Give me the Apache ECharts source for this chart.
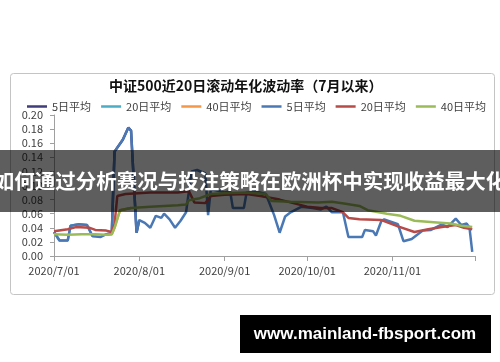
<!DOCTYPE html>
<html>
<head>
<meta charset="utf-8">
<script src="https://cdn.jsdelivr.net/npm/echarts@6/dist/echarts.min.js"></script>
<style>html,body{margin:0;padding:0;background:#fff}#c{width:500px;height:362px}</style>
</head>
<body>
<div id="c"></div>
<script>
// ---- data ----
const titleText = '中证500近20日滚动年化波动率（7月以来）';
const legendLabels = ['5日平均', '20日平均', '40日平均', '5日平均', '20日平均', '40日平均'];
const xTickDates = ['7/1', '8/1', '9/1', '10/1', '11/1', '12/1'];
const xTickLabels = ['2020/7/01', '2020/8/01', '2020/9/01', '2020/10/01', '2020/11/01', ''];
const yTickLabels = ['0.00','0.02','0.04','0.06','0.08','0.10','0.12','0.14','0.16','0.18','0.20'];

// first group
const datesA5 = ['7/20','7/22','7/23','7/26','7/28','7/29','7/31','8/1'];
const valsA5  = [0.031, 0.032, 0.148, 0.165, 0.182, 0.178, 0.033, 0.051];
const datesA20 = ['7/1','7/3','7/6','7/7','7/10','7/13','7/15'];
const valsA20  = [0.034, 0.022, 0.022, 0.043, 0.045, 0.044, 0.028];
const datesA40 = ['7/20','7/22','7/23','7/25','7/29'];
const valsA40  = [0.030, 0.031, 0.040, 0.065, 0.068];

// second group
const datesB5 = ['7/1','7/3','7/6','7/7','7/10','7/13','7/15','7/18','7/20','7/22','7/23','7/26','7/28','7/29','7/31',
  '8/1','8/3','8/5','8/7','8/9','8/10','8/12','8/14','8/16','8/18','8/20','8/22','8/25','8/26','8/27','8/30',
  '9/1','9/3','9/4','9/8','9/9','9/12','9/16','9/19','9/21','9/23','9/25','9/29',
  '10/3','10/6','10/8','10/10','10/14','10/16','10/21','10/22','10/25','10/26','10/28','10/29',
  '11/3','11/5','11/8','11/10','11/12','11/15','11/19','11/21','11/24','11/26','11/28','11/29','11/30'];
const valsB5 = [0.034,0.022,0.022,0.043,0.045,0.044,0.028,0.027,0.031,0.032,0.148,0.165,0.182,0.178,0.033,
  0.051,0.047,0.040,0.057,0.054,0.060,0.052,0.040,0.050,0.062,0.120,0.122,0.117,0.058,0.095,0.092,
  0.090,0.092,0.068,0.068,0.090,0.092,0.088,0.058,0.033,0.056,0.062,0.070,
  0.068,0.066,0.070,0.062,0.062,0.027,0.027,0.037,0.035,0.029,0.050,0.052,
  0.045,0.021,0.024,0.030,0.036,0.037,0.045,0.041,0.053,0.044,0.046,0.040,0.006];
const datesB20 = ['7/1','7/6','7/9','7/14','7/16','7/20','7/22','7/23','7/24','7/27','8/5','8/15','8/19','8/21','8/25','8/27',
  '9/1','9/9','9/14','9/21','9/26','10/1','10/6','10/10','10/14','10/16','10/20','10/28',
  '11/3','11/9','11/14','11/19','11/24','11/27','11/30'];
const valsB20 = [0.035,0.038,0.041,0.040,0.037,0.036,0.034,0.045,0.085,0.088,0.090,0.090,0.092,0.076,0.075,0.085,
  0.087,0.088,0.085,0.080,0.075,0.070,0.068,0.068,0.062,0.054,0.052,0.051,
  0.042,0.034,0.038,0.041,0.044,0.040,0.038];
const datesB40 = ['7/1','7/6','7/11','7/16','7/20','7/22','7/23','7/25','7/29','8/5','8/15','8/18','8/19','8/23','8/27',
  '9/1','9/9','9/16','9/18','9/25','10/5','10/10','10/15','10/20','10/23','10/30',
  '11/4','11/9','11/16','11/22','11/26','11/30'];
const valsB40 = [0.031,0.030,0.031,0.031,0.030,0.031,0.040,0.065,0.068,0.070,0.072,0.073,0.079,0.082,0.088,
  0.089,0.090,0.088,0.078,0.077,0.076,0.077,0.074,0.071,0.065,0.060,
  0.057,0.050,0.048,0.046,0.043,0.041];

const bannerText = '如何通过分析赛况与投注策略在欧洲杯中实现收益最大化';
const siteText = 'www.mainland-fbsport.com';

// ---- helpers ----
const base = Date.UTC(2020, 6, 1);
function dayOf(s) {
  const p = s.split('/');
  return (Date.UTC(2020, +p[0] - 1, +p[1]) - base) / 86400000;
}
function pairs(ds, vs) { return ds.map((d, i) => [dayOf(d), vs[i]]); }
const tickDays = xTickDates.map(dayOf);

const cjk = '"Noto Sans CJK SC", "Noto Sans", sans-serif';
const colors = ['#3f3d7c', '#4bacc6', '#f79646', '#4a78b5', '#b84a47', '#9bbb59'];
const names = ['a5', 'a20', 'a40', 'b5', 'b20', 'b40'];
const seriesData = [
  pairs(datesA5, valsA5), pairs(datesA20, valsA20), pairs(datesA40, valsA40),
  pairs(datesB5, valsB5), pairs(datesB20, valsB20), pairs(datesB40, valsB40)
];
const zs = [1, 1, 1, 2, 3, 3];

const chart = echarts.init(document.getElementById('c'), null, { renderer: 'canvas' });
chart.setOption({
  animation: false,
  backgroundColor: '#fff',
  title: {
    text: titleText, left: 104, top: 74,
    textStyle: { fontSize: 14, fontWeight: 'bold', color: '#111', fontFamily: cjk }
  },
  legend: {
    data: names, left: 22, top: 96, icon: 'rect', itemWidth: 20, itemHeight: 2.5, itemGap: 10,
    formatter: n => legendLabels[names.indexOf(n)],
    textStyle: { fontSize: 11, color: '#404040', fontFamily: cjk }
  },
  grid: { left: 54, right: 25, top: 115, bottom: 106, containLabel: false },
  xAxis: {
    type: 'value', min: 0, max: tickDays[tickDays.length - 1],
    axisLine: { show: true, lineStyle: { color: '#a0a0a0', width: 1 } },
    axisTick: { show: true, length: 5, customValues: tickDays, lineStyle: { color: '#a0a0a0' } },
    axisLabel: {
      customValues: tickDays.slice(0, 5), margin: 9,
      formatter: v => xTickLabels[tickDays.indexOf(v)],
      fontSize: 11, color: '#404040', fontFamily: cjk
    },
    splitLine: { show: false }
  },
  yAxis: {
    type: 'value', min: 0, max: 0.2, interval: 0.02,
    axisLine: { show: true, lineStyle: { color: '#a0a0a0', width: 1 } },
    axisTick: { show: true, length: 4, lineStyle: { color: '#a0a0a0' } },
    axisLabel: {
      formatter: v => yTickLabels[Math.round(v / 0.02)], margin: 11,
      fontSize: 11, color: '#404040', fontFamily: cjk
    },
    splitLine: { show: false }
  },
  series: names.map((n, i) => ({
    name: n, type: 'line', data: seriesData[i], showSymbol: false, z: zs[i],
    color: colors[i], lineStyle: { width: 2.5, color: colors[i] }
  })),
  graphic: [
    { type: 'rect', z: 0, silent: true, shape: { x: 10.5, y: 73.5, width: 484, height: 221, r: 3 },
      style: { fill: 'none', stroke: '#c4c4c4', lineWidth: 1 } },
    { type: 'rect', z: 100, silent: true, shape: { x: 0, y: 150, width: 500, height: 62 },
      style: { fill: 'rgba(0,0,0,0.63)' } },
    { type: 'text', z: 101, silent: true, x: 250, y: 181,
      style: { text: bannerText, fill: '#fff', fontSize: 20.5, fontWeight: 'bold', fontFamily: cjk,
        align: 'center', verticalAlign: 'middle' } },
    { type: 'rect', z: 100, silent: true, shape: { x: 240, y: 315, width: 251, height: 38 },
      style: { fill: '#000' } },
    { type: 'text', z: 101, silent: true, x: 365, y: 334,
      style: { text: siteText, fill: '#fff', fontSize: 17, fontWeight: 'bold', fontFamily: '"Liberation Sans", Arial, sans-serif',
        align: 'center', verticalAlign: 'middle' } }
  ]
});
</script>
</body>
</html>
